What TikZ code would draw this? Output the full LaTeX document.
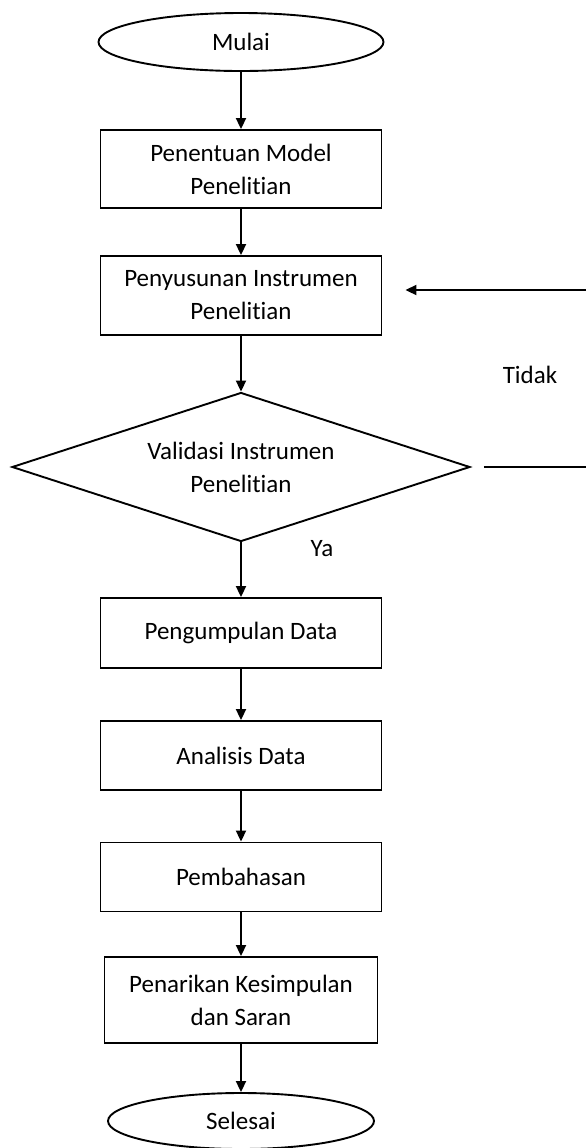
\documentclass[tikz,border=0pt]{standalone}
\usepackage{fontspec}
\setmainfont{Carlito}[Ligatures=NoCommon]
\usetikzlibrary{shapes.geometric,arrows.meta}

\begin{document}
\begin{tikzpicture}[x=0.5pt,y=-0.5pt,
			every node/.style={font=\fontsize{12.5pt}{16.5pt}\selectfont, align=center},
			kotak/.style={draw, line width=0.95pt, minimum width=140.5pt, inner sep=0pt},
			oval/.style={draw, ellipse, line width=0.95pt, inner sep=0pt},
			putusan/.style={draw, diamond, aspect=3.07, line width=0.95pt, inner sep=0pt,
				minimum width=229pt, minimum height=74.5pt},
			panah/.style={line width=0.95pt, -{Triangle[length=5.5pt,width=5pt]}},
			garis/.style={line width=0.95pt}]
\useasboundingbox (0,0) rectangle (585,1148);
\node[oval, minimum width=142.5pt, minimum height=29pt] (mulai) at (241,42) {Mulai};
\node[kotak, minimum height=39pt] (model) at (241,169) {Penentuan Model\\Penelitian};
\node[kotak, minimum height=39.5pt] (instrumen) at (241,295.5) {Penyusunan Instrumen\\Penelitian};
\node[putusan] (validasi) at (241,467) {Validasi Instrumen\\Penelitian};
\node[kotak, minimum height=35pt] (data) at (241,633) {Pengumpulan Data};
\node[kotak, minimum height=34.5pt] (analisis) at (241,755.5) {Analisis Data};
\node[kotak, minimum height=34.5pt] (bahas) at (241,877) {Pembahasan};
\node[kotak, minimum width=136.5pt, minimum height=43pt] (simpul) at (241,1000) {Penarikan Kesimpulan\\dan Saran};
\node[oval, minimum width=133pt, minimum height=28pt] (selesai) at (241,1121) {Selesai};
\node (tidak) at (530,375) {Tidak};
\node (ya) at (322,549) {Ya};

\coordinate (belokA) at (590,467);
\coordinate (belokB) at (590,290);

\draw[panah] (mulai) -- (model);
\draw[panah] (model) -- (instrumen);
\draw[panah] (instrumen) -- (validasi);
\draw[panah] (validasi) -- (data);
\draw[panah] (data) -- (analisis);
\draw[panah] (analisis) -- (bahas);
\draw[panah] (bahas) -- (simpul);
\draw[panah] (simpul) -- (selesai);
\draw[garis, shorten <=6.5pt] (validasi.east) -- (belokA) -- (belokB);
\draw[panah, shorten >=11.5pt] (belokB) -- (belokB -| instrumen.east);
\end{tikzpicture}
\end{document}
